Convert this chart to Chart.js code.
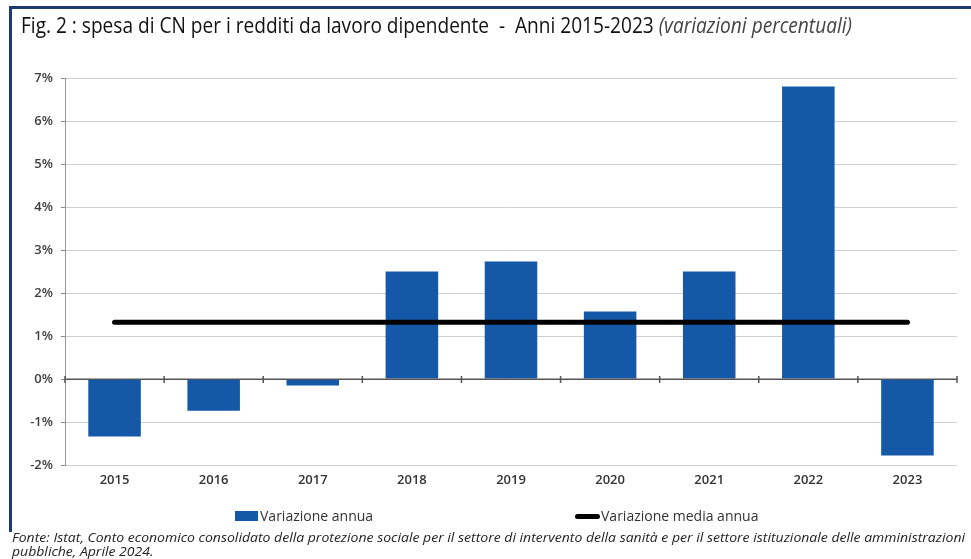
<!DOCTYPE html>
<html>
<head>
<meta charset="utf-8">
<script src="https://cdn.jsdelivr.net/npm/chart.js@4.4.1/dist/chart.umd.min.js"></script>
<style>
  html, body { margin:0; padding:0; background:#fff; }
  body { width:971px; height:559px; position:relative; overflow:hidden; font-family:'Open Sans', sans-serif; }
  #frameTop { position:absolute; left:9px; top:6px; width:962px; height:3px; background:#1d3b6f; }
  #frameLeft { position:absolute; left:9px; top:6px; width:3px; height:526px; background:#1d3b6f; }
  #title { position:absolute; left:21px; top:15px; font-size:21px; line-height:21px; font-weight:500; color:#111; white-space:nowrap; transform-origin:0 0; }
  #title i { color:#444; font-weight:400; }
  #note { position:absolute; left:12px; top:531px; font-size:12.5px; line-height:14px; font-style:italic; color:#222; white-space:nowrap; transform-origin:0 0; }
  #legend { position:absolute; left:0; top:506px; width:971px; height:20px; }
  .lg { position:absolute; top:0; height:20px; font-size:14px; line-height:20px; color:#333; white-space:nowrap; }
  .sym { position:absolute; }
  canvas { position:absolute; left:0; top:0; }
</style>
</head>
<body>
<div id="frameTop"></div>
<div id="frameLeft"></div>
<canvas id="c" width="971" height="559"></canvas>
<div id="title">Fig. 2 : spesa di CN per i redditi da lavoro dipendente&nbsp; - &nbsp;Anni 2015-2023 <i>(variazioni percentuali)</i></div>
<div id="legend"></div>
<div id="note">Fonte: Istat, Conto economico consolidato della protezione sociale per il settore di intervento della sanità e per il settore istituzionale delle amministrazioni<br>pubbliche, Aprile 2024.</div>
<script>
// ---- data ----
const years = ['2015','2016','2017','2018','2019','2020','2021','2022','2023'];
const annualChange = [-1.34, -0.74, -0.15, 2.50, 2.73, 1.57, 2.50, 6.80, -1.78];
const meanAnnualChange = [1.32, 1.32, 1.32, 1.32, 1.32, 1.32, 1.32, 1.32, 1.32];
const yTickValues = [-2, -1, 0, 1, 2, 3, 4, 5, 6, 7];
const seriesNames = ['Variazione annua', 'Variazione media annua'];
const barColor = '#1558a7';
const lineColor = '#000000';

const zeroTicks = {
  id: 'zeroTicks',
  afterDatasetsDraw(chart) {
    const xs = chart.scales.x, ys = chart.scales.y, ctx = chart.ctx;
    const y0 = ys.getPixelForValue(0);
    ctx.save();
    ctx.strokeStyle = '#555';
    ctx.lineWidth = 1;
    ctx.beginPath();
    ctx.moveTo(xs.left, y0); ctx.lineTo(xs.right, y0);
    ctx.stroke();
    ctx.lineWidth = 1.5;
    for (let i = 0; i <= years.length; i++) {
      const x = xs.getPixelForValue(i - 0.5);
      ctx.beginPath();
      ctx.moveTo(x, y0 - 3); ctx.lineTo(x, y0 + 4);
      ctx.stroke();
    }
    ctx.restore();
  }
};

const chart = new Chart(document.getElementById('c'), {
  data: {
    labels: years,
    datasets: [
      { type: 'bar', label: seriesNames[0], data: annualChange, backgroundColor: barColor,
        barPercentage: 0.53, categoryPercentage: 1.0, order: 2 },
      { type: 'line', label: seriesNames[1], data: meanAnnualChange, borderColor: lineColor,
        backgroundColor: lineColor, borderWidth: 5, pointRadius: 0, borderCapStyle: 'round',
        tension: 0, order: 1 }
    ]
  },
  options: {
    responsive: false,
    devicePixelRatio: 1,
    animation: false,
    layout: { padding: { top: 78, left: 0, right: 14, bottom: 0 } },
    plugins: { legend: { display: false }, tooltip: { enabled: false }, title: { display: false } },
    scales: {
      x: {
        grid: { display: false, drawTicks: false },
        border: { display: false },
        ticks: { color: '#333', font: { family: 'Open Sans', size: 13, weight: '600' }, padding: 7 },
        afterFit(scale) { scale.height = 94; }
      },
      y: {
        min: -2, max: 7,
        afterBuildTicks(scale) { scale.ticks = yTickValues.map(v => ({ value: v })); },
        ticks: { color: '#404040', font: { family: 'Open Sans', size: 13, weight: '600' }, padding: 8,
                 callback: v => v + '%' },
        grid: { color: ctx => (ctx.tick && ctx.tick.value === 0) ? '#555' : '#cfcfcf',
                lineWidth: 1, tickLength: 4, tickColor: '#888' },
        border: { display: true, color: '#999', width: 1 },
        afterFit(scale) { scale.width = 65; }
      }
    }
  },
  plugins: [zeroTicks]
});

// ---- legend built from the chart datasets ----
(function buildLegend() {
  const lg = document.getElementById('legend');
  const pos = [235, 575];
  chart.data.datasets.forEach((ds, i) => {
    const item = document.createElement('div');
    item.className = 'lg';
    item.style.left = pos[i] + 'px';
    const sym = document.createElement('span');
    sym.className = 'sym';
    if (ds.type === 'bar') {
      sym.style.cssText = 'left:0;top:5px;width:23px;height:10px;background:' + ds.backgroundColor;
    } else {
      sym.style.cssText = 'left:0;top:8px;width:25px;height:5px;border-radius:3px;background:' + ds.borderColor;
    }
    item.appendChild(sym);
    const t = document.createElement('span');
    t.textContent = ds.label;
    t.style.marginLeft = (ds.type === 'bar' ? 25 : 26) + 'px';
    item.appendChild(t);
    lg.appendChild(item);
  });
})();

// ---- fit title / note widths to the reference ----
function fitWidth(el, target) {
  const w = el.getBoundingClientRect().width;
  if (w > 0) el.style.transform = 'scaleX(' + (target / w) + ')';
}
fitWidth(document.getElementById('title'), 831);
(function () {
  const note = document.getElementById('note');
  const range = document.createRange();
  range.setStart(note.firstChild, 0);
  range.setEnd(note.firstChild, note.firstChild.length);
  const w = range.getBoundingClientRect().width;
  if (w > 0) note.style.transform = 'scaleX(' + (953 / w) + ')';
})();
</script>
</body>
</html>
